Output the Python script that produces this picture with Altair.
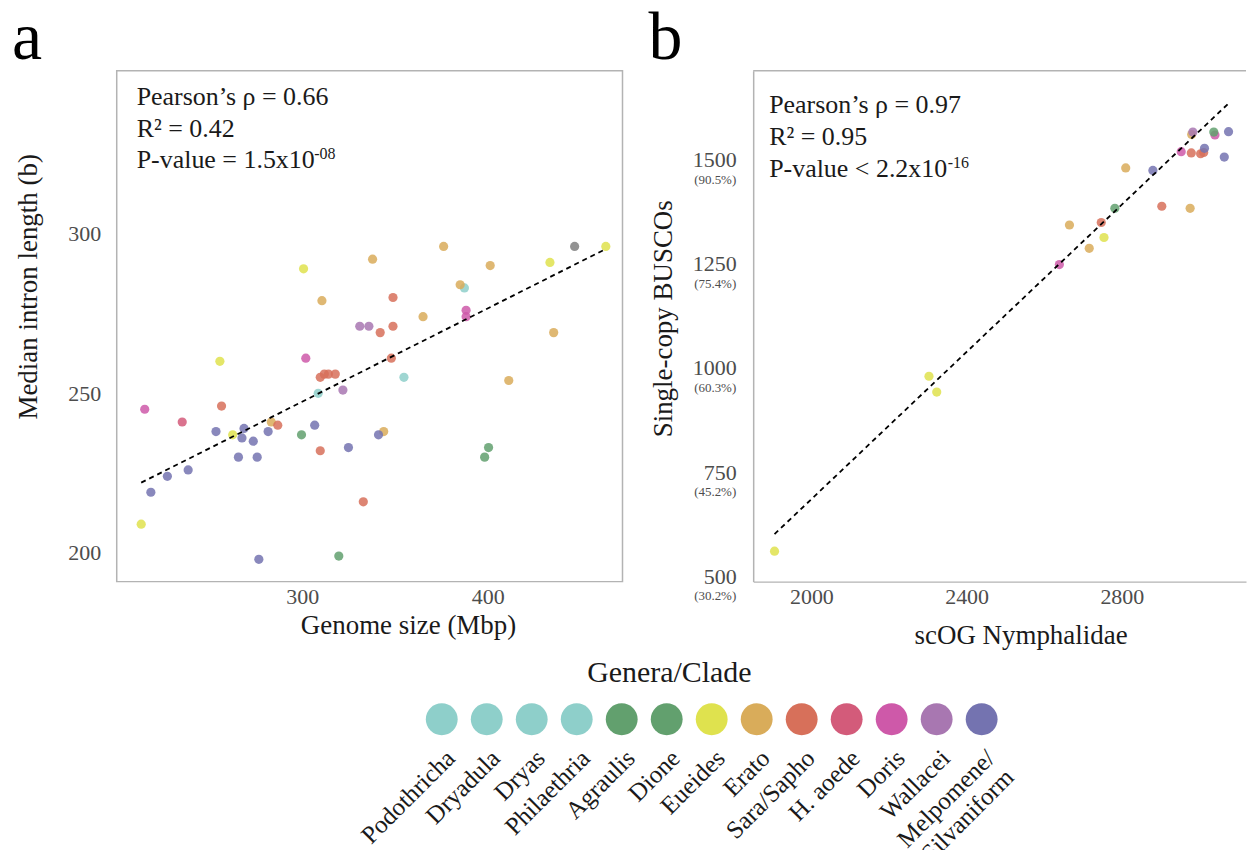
import altair as alt
import pandas as pd

FONT = "Liberation Serif"
INK = "#1a1a1a"
GREYTXT = "#4d4d4d"
FRAME = "#b3b3b3"

# ---------------- categories / colours ----------------
clades = ["Podothricha", "Dryadula", "Dryas", "Philaethria", "Agraulis", "Dione",
          "Eueides", "Erato", "Sara/Sapho", "H. aoede", "Doris", "Wallacei",
          "Melpomene/Silvaniform"]
legend_labels = ["Podothricha", "Dryadula", "Dryas", "Philaethria", "Agraulis", "Dione",
                 "Eueides", "Erato", "Sara/Sapho", "H. aoede", "Doris", "Wallacei",
                 "Melpomene/\nSilvaniform"]
clade_colors = ["#8ECFCA", "#8ECFCA", "#8ECFCA", "#8ECFCA", "#62A06E", "#62A06E",
                "#DFE24E", "#D9AC5A", "#D7705A", "#D35B7A", "#CE59A9", "#A877B1",
                "#7473B0"]
na_name = "NA"
na_color = "#808080"

# ---------------- panel a ----------------
a_genome = [387.4, 354.8, 308.6,
            299.6, 319.7, 400.4, 398.3,
            213.2, 255.6, 262.5, 300.7, 433.5, 463.6,
            376.2, 337.9, 401.3, 385.1, 310.6, 365.1, 435.5, 411.3, 283.3, 343.9,
            348.9, 348.9, 342.0, 348.0, 309.7, 311.9, 314.1, 317.8, 256.5, 286.8, 309.7, 332.9,
            235.3,
            388.3, 388.3, 301.9, 215.1,
            331.0, 335.9, 321.9,
            253.5, 268.6, 267.5, 273.6, 281.6, 306.7, 341.1, 324.9, 265.6, 275.7, 238.5, 227.3, 218.4, 276.6,
            446.8]
a_intron = [283, 255, 250,
            237, 199, 233, 230,
            209, 260, 237, 289, 291, 296,
            296, 292, 290, 284, 279, 274, 269, 254, 241, 238,
            280, 271, 269, 261, 255, 256, 256, 256, 246, 240, 232, 216,
            241,
            276, 274, 261, 245,
            271, 271, 251,
            238, 239, 236, 235, 238, 240, 237, 233, 230, 230, 226, 224, 219, 198,
            296]
a_clade = (["Podothricha", "Dryas", "Philaethria"] + ["Agraulis", "Agraulis", "Dione", "Dione"]
           + ["Eueides"] * 6 + ["Erato"] * 10 + ["Sara/Sapho"] * 12 + ["H. aoede"]
           + ["Doris"] * 4 + ["Wallacei"] * 3 + ["Melpomene/Silvaniform"] * 14 + [na_name])
a_fit_x = [213.2, 463.6]
a_fit_y = [222.0, 295.2]
a_stats = ["Pearson’s ρ = 0.66", "R² = 0.42", "P-value = 1.5x10"]
a_sup = "-08"

# ---------------- panel b ----------------
b_scog = [1905, 2303, 2323, 2754,
          2639, 2953, 3040,
          2665, 2716, 2810, 2976, 2980,
          2747, 2903, 2979, 3003, 3011,
          2782, 3037,
          2880, 3013, 3064, 3075,
          2983]
b_busco = [560, 980, 942, 1313,
           1248, 1519, 1559,
           1343, 1287, 1480, 1383, 1560,
           1349, 1388, 1516, 1514, 1517,
           1383, 1566,
           1474, 1527, 1506, 1567,
           1566]
b_clade = (["Eueides"] * 4 + ["Doris"] * 3 + ["Erato"] * 5 + ["Sara/Sapho"] * 5
           + ["Agraulis", "Dione"] + ["Melpomene/Silvaniform"] * 4 + ["Wallacei"])
b_fit_x = [1905, 3074]
b_fit_y = [601, 1634]
b_ticks = [500, 750, 1000, 1250, 1500]
b_pct = ["(30.2%)", "(45.2%)", "(60.3%)", "(75.4%)", "(90.5%)"]
b_stats = ["Pearson’s ρ = 0.97", "R² = 0.95", "P-value < 2.2x10"]
b_sup = "-16"

# ---------------- tables ----------------
df_a = pd.DataFrame({"genome": a_genome, "intron": a_intron, "clade": a_clade})
df_a_fit = pd.DataFrame({"genome": a_fit_x, "intron": a_fit_y})
df_b = pd.DataFrame({"scog": b_scog, "busco": b_busco, "clade": b_clade})
df_b_fit = pd.DataFrame({"scog": b_fit_x, "busco": b_fit_y})
df_pct = pd.DataFrame({"busco": b_ticks, "pct": b_pct})
df_leg = pd.DataFrame({"clade": clades, "label": legend_labels, "idx": list(range(len(clades)))})

color_scale = alt.Scale(domain=clades + [na_name], range=clade_colors + [na_color])
col = alt.Color("clade:N", scale=color_scale, legend=None)

axis_common = dict(grid=False, ticks=False, labelFont=FONT, labelFontSize=22,
                   labelColor=GREYTXT, titleFont=FONT, titleFontSize=27,
                   titleFontWeight="normal", titleColor=INK)

PT_SIZE = 85
PT_OP = 0.85
STAT_FS = 26


def text_layer(s, x, y, size, color=INK, align="left", baseline="alphabetic"):
    return alt.Chart(pd.DataFrame({"t": [s]})).mark_text(
        align=align, baseline=baseline, font=FONT, fontSize=size, color=color).encode(
        x=alt.value(x), y=alt.value(y), text="t:N")


# ---------------- panel a chart ----------------
W_A, H_A = 507, 512
sx_a = alt.Scale(domain=[200, 472.6], nice=False, zero=False)
sy_a = alt.Scale(domain=[191, 351], nice=False, zero=False)

pts_a = alt.Chart(df_a).mark_circle(size=PT_SIZE, opacity=PT_OP).encode(
    x=alt.X("genome:Q", scale=sx_a,
            axis=alt.Axis(values=[300, 400], title="Genome size (Mbp)", domain=False,
                          labelPadding=5, titlePadding=5, titleX=292, **axis_common)),
    y=alt.Y("intron:Q", scale=sy_a,
            axis=alt.Axis(values=[200, 250, 300], title="Median intron length (b)", domain=False,
                          labelPadding=16, titlePadding=25, titleY=216, **axis_common)),
    color=col,
)
fit_a = alt.Chart(df_a_fit).mark_line(color="black", strokeDash=[5, 4], strokeWidth=1.8).encode(
    x=alt.X("genome:Q", scale=sx_a), y=alt.Y("intron:Q", scale=sy_a))

stats_a = [text_layer(s, 20, yy, STAT_FS) for s, yy in zip(a_stats, [34, 66, 97])]
sup_a = text_layer(a_sup, 198, 88, 16)
letter_a = text_layer("a", -105, -12, 68, color="black")

panel_a = alt.layer(pts_a, fit_a, *stats_a, sup_a, letter_a).properties(width=W_A, height=H_A)

# ---------------- panel b chart ----------------
W_B, H_B = 494, 512
sx_b = alt.Scale(domain=[1850, 3120], nice=False, zero=False)
sy_b = alt.Scale(domain=[487, 1713], nice=False, zero=False)

pts_b = alt.Chart(df_b).mark_circle(size=PT_SIZE, opacity=PT_OP).encode(
    x=alt.X("scog:Q", scale=sx_b,
            axis=alt.Axis(values=[2000, 2400, 2800], format="d", title="scOG Nymphalidae",
                          domain=True, domainColor=FRAME, domainWidth=1.5,
                          labelPadding=5, titlePadding=15, titleX=268, **axis_common)),
    y=alt.Y("busco:Q", scale=sy_b,
            axis=alt.Axis(values=b_ticks, format="d", title="Single-copy BUSCOs",
                          domain=True, domainColor=FRAME, domainWidth=1.5,
                          labelPadding=17, titlePadding=15, titleY=248, **axis_common)),
    color=col,
)
fit_b = alt.Chart(df_b_fit).mark_line(color="black", strokeDash=[5, 4], strokeWidth=1.8).encode(
    x=alt.X("scog:Q", scale=sx_b), y=alt.Y("busco:Q", scale=sy_b))
pct_b = alt.Chart(df_pct).mark_text(align="right", baseline="middle", font=FONT, fontSize=13,
                                     color=GREYTXT, dy=20).encode(
    x=alt.value(-17), y=alt.Y("busco:Q", scale=sy_b), text="pct:N")
top_b = alt.Chart(pd.DataFrame({"z": [0]})).mark_rule(color=FRAME, strokeWidth=1.5).encode(
    x=alt.value(0), x2=alt.value(W_B), y=alt.value(0))

stats_b = [text_layer(s, 16, yy, STAT_FS) for s, yy in zip(b_stats, [42, 74, 106])]
sup_b = text_layer(b_sup, 195, 97, 16)
letter_b = text_layer("b", -105, -12, 68, color="black")

panel_b = alt.layer(pts_b, fit_b, pct_b, top_b, *stats_b, sup_b, letter_b).properties(
    width=W_B, height=H_B, view=alt.ViewBackground(stroke="transparent"))

# ---------------- legend chart ----------------
PLOT_LEFT = 116
W_L, H_L = 1120, 200
first_c, step_c = 441.8, 45.1
d0 = -(first_c - PLOT_LEFT) / step_c
d1 = d0 + W_L / step_c
sx_l = alt.Scale(domain=[d0, d1], nice=False, zero=False)

circ = alt.Chart(df_leg).mark_circle(size=1020, opacity=1).encode(
    x=alt.X("idx:Q", scale=sx_l, axis=None), y=alt.value(69), color=col)
labs = alt.Chart(df_leg).transform_calculate(lx="datum.idx + 0.2").mark_text(
    align="right", baseline="middle", angle=315, font=FONT, fontSize=25, color=INK,
    lineBreak="\n", clip=True).encode(
    x=alt.X("lx:Q", scale=sx_l, axis=None), y=alt.value(104), text="label:N")
ltitle = text_layer("Genera/Clade", 554, 23, 30, align="center", baseline="middle")

legend = alt.layer(circ, labs, ltitle).properties(
    width=W_L, height=H_L, view=alt.ViewBackground(stroke="transparent"))

chart = alt.vconcat(
    alt.hconcat(panel_a, panel_b, spacing=24),
    legend, spacing=0,
).properties(
    padding={"left": 11, "top": 3, "right": 0, "bottom": 0},
    background="white",
).configure(font=FONT).configure_view(stroke=FRAME, strokeWidth=1.5)

chart.save("out.html", embed_options={"renderer": "svg", "actions": False})
